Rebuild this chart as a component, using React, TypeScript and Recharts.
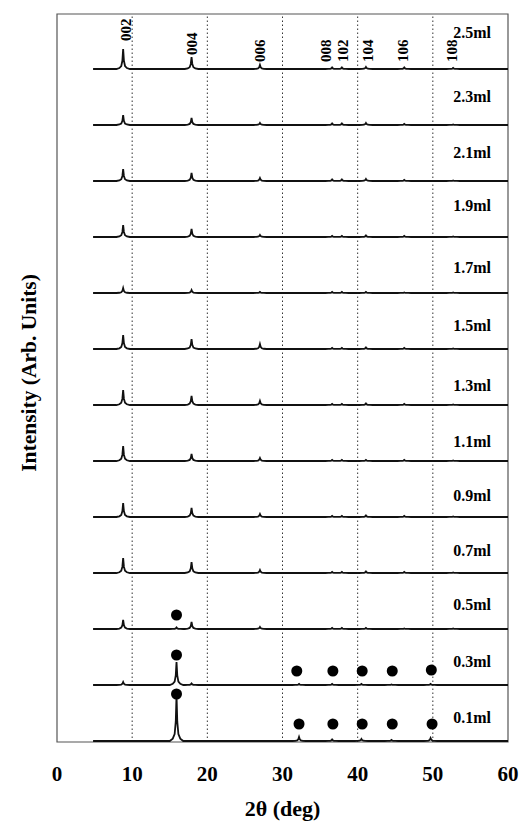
import React from "react";
import {
  ComposedChart,
  Line,
  Scatter,
  XAxis,
  YAxis,
  ReferenceLine,
  ReferenceArea,
} from "recharts";

// samples, bottom trace first
const SAMPLES = ["0.1ml", "0.3ml", "0.5ml", "0.7ml", "0.9ml", "1.1ml", "1.3ml", "1.5ml", "1.7ml", "1.9ml", "2.1ml", "2.3ml", "2.5ml"];

// hydrotalcite reflections
const REFLECTIONS = ["002", "004", "006", "008", "102", "104", "106", "108"];
const REFLECTION_POS = [8.8, 17.9, 27.0, 36.6, 37.9, 41.1, 46.2, 52.7];

// peak intensities per sample (same order as SAMPLES)
const I_002 = [0, 3, 9, 15, 14, 15, 15, 14, 5, 12, 12, 10, 20];
const I_004 = [0, 1.5, 7, 11, 9, 7, 9, 10, 3, 8, 8, 7, 12];
const I_006 = [0, 0, 2, 3, 3, 3, 4, 5, 1, 2, 3, 2, 4];
const I_008 = [0, 0, 1, 1, 1, 1, 1, 1, 1, 1, 1.5, 1.5, 1.5];
const I_102 = [0, 0, 1, 1, 1, 1, 1, 1, 1, 1, 1.5, 1.5, 1.5];
const I_104 = [0, 0, 1, 1.5, 1.5, 1, 1.5, 1.5, 1, 1.5, 2, 2, 2];
const I_106 = [0, 0, 0.5, 1, 1, 1, 1, 1, 0.5, 1, 1, 1, 1.5];
const I_108 = [0, 0, 0.5, 0.5, 0.5, 0.5, 0.5, 0.5, 0.5, 0.5, 0.5, 0.5, 1];
const REFLECTION_I = [I_002, I_004, I_006, I_008, I_102, I_104, I_106, I_108];

// impurity phase (marked with dots)
const IMPURITY_POS = [15.9, 32.2, 36.6, 40.5, 44.5, 49.7];
const IMPURITY_I_01 = [46, 4, 1.5, 2, 1, 3];
const IMPURITY_I_03 = [23, 1, 1, 1, 0.5, 1];
const IMPURITY_I_05 = [1.5, 0, 0, 0, 0, 0];

// dot markers: x and height above own trace
const DOTS_01_X = [15.9, 32.2, 36.7, 40.6, 44.6, 49.9];
const DOTS_01_Y = [47, 17, 17, 17, 17, 17];
const DOTS_03_X = [15.9, 31.9, 36.7, 40.6, 44.6, 49.8];
const DOTS_03_Y = [30, 14, 14, 14, 14, 15];
const DOTS_05_X = [15.9];
const DOTS_05_Y = [14];

// label heights above trace
const SAMPLE_LABEL_RISE = [24, 24, 25, 23, 22, 20, 20, 24, 26, 32, 29, 29, 37];
const REFLECTION_LABEL_X = [9.2, 18.0, 27.0, 35.8, 38.1, 41.4, 46.0, 52.5];
const REFLECTION_LABEL_Y = [701, 687, 680, 680, 680, 680, 680, 680];

const X_TICKS = [0, 10, 20, 30, 40, 50, 60];
const GRID_X = [10, 20, 30, 40, 50];

const STEP = 56;
const BASE = 1;
const SHAPE_DX = [-0.9, -0.5, -0.25, -0.1, 0, 0.1, 0.25, 0.5, 0.9];
const SHAPE_F = [0, 0.05, 0.15, 0.42, 1, 0.42, 0.15, 0.05, 0];
const FONT = "'Liberation Serif', 'Times New Roman', serif";

function shapeAt(dx: number) {
  if (dx <= SHAPE_DX[0] || dx >= SHAPE_DX[SHAPE_DX.length - 1]) return 0;
  for (let k = 0; k < SHAPE_DX.length - 1; k++) {
    if (dx >= SHAPE_DX[k] && dx <= SHAPE_DX[k + 1]) {
      const t = (dx - SHAPE_DX[k]) / (SHAPE_DX[k + 1] - SHAPE_DX[k]);
      return SHAPE_F[k] + t * (SHAPE_F[k + 1] - SHAPE_F[k]);
    }
  }
  return 0;
}

function buildTrace(i: number) {
  const peaks: { pos: number; h: number }[] = [];
  REFLECTION_POS.forEach((pos, r) => {
    if (REFLECTION_I[r][i] > 0) peaks.push({ pos, h: REFLECTION_I[r][i] });
  });
  const imp = i === 0 ? IMPURITY_I_01 : i === 1 ? IMPURITY_I_03 : i === 2 ? IMPURITY_I_05 : null;
  if (imp) IMPURITY_POS.forEach((pos, k) => imp[k] > 0 && peaks.push({ pos, h: imp[k] }));
  const xs = new Set<number>([4.8, 60]);
  peaks.forEach((p) => SHAPE_DX.forEach((d) => xs.add(+(p.pos + d).toFixed(3))));
  const base = i * STEP + BASE;
  return [...xs]
    .sort((a, b) => a - b)
    .map((x) => ({
      x,
      y: base + peaks.reduce((s, p) => s + p.h * shapeAt(x - p.pos), 0),
    }));
}

const traces = SAMPLES.map((_, i) => buildTrace(i));

const dots = [
  ...DOTS_01_X.map((x, k) => ({ x, y: BASE + DOTS_01_Y[k] })),
  ...DOTS_03_X.map((x, k) => ({ x, y: STEP + BASE + DOTS_03_Y[k] })),
  ...DOTS_05_X.map((x, k) => ({ x, y: 2 * STEP + BASE + DOTS_05_Y[k] })),
];

const sampleLabels = SAMPLES.map((label, i) => ({
  x: 52.7,
  y: i * STEP + BASE + SAMPLE_LABEL_RISE[i],
  label,
}));

const hklLabels = REFLECTIONS.map((label, r) => ({
  x: REFLECTION_LABEL_X[r],
  y: REFLECTION_LABEL_Y[r],
  label,
}));

export default function App() {
  return (
    <div style={{ position: "absolute", left: 0, top: 0, background: "#fff" }}>
      <ComposedChart width={520} height={822} margin={{ top: 14, right: 12, bottom: 0, left: 0 }}>
        <XAxis
          type="number"
          dataKey="x"
          domain={[0, 60]}
          ticks={X_TICKS}
          allowDataOverflow
          axisLine={false}
          tickLine={false}
          tickSize={0}
          tickMargin={24}
          height={80}
          tick={{ fontSize: 21, fontWeight: 700, fill: "#000", fontFamily: FONT }}
          label={{
            content: ({ viewBox }: any) => (
              <text
                x={viewBox.x + viewBox.width / 2}
                y={viewBox.y + 66}
                textAnchor="middle"
                dominantBaseline="central"
                style={{ fontSize: 22, fontWeight: 700, fontFamily: FONT, fill: "#000" }}
              >
                2θ (deg)
              </text>
            ),
          }}
        />
        <YAxis
          type="number"
          dataKey="y"
          domain={[0, 728]}
          allowDataOverflow
          width={57}
          axisLine={false}
          tickLine={false}
          tick={false}
          label={{
            content: ({ viewBox }: any) => {
              const cx = viewBox.x + viewBox.width / 2;
              const cy = viewBox.y + viewBox.height / 2 - 5;
              return (
                <text
                  x={cx}
                  y={cy}
                  transform={`rotate(-90, ${cx}, ${cy})`}
                  textAnchor="middle"
                  dominantBaseline="central"
                  style={{ fontSize: 21.5, fontWeight: 700, fontFamily: FONT, fill: "#000" }}
                >
                  Intensity (Arb. Units)
                </text>
              );
            },
          }}
        />
        <ReferenceArea x1={0} x2={60} y1={0} y2={728} fill="none" stroke="#555" strokeWidth={1.2} ifOverflow="visible" />
        {GRID_X.map((x) => (
          <ReferenceLine key={x} x={x} stroke="#333" strokeWidth={1} strokeDasharray="1.5 2.5" />
        ))}
        {traces.map((data, i) => (
          <Line
            key={SAMPLES[i]}
            data={data}
            dataKey="y"
            type="linear"
            stroke="#111"
            strokeWidth={1.8}
            dot={false}
            activeDot={false}
            isAnimationActive={false}
          />
        ))}
        <Scatter
          data={dots}
          isAnimationActive={false}
          shape={(p: any) => <circle cx={p.cx} cy={p.cy} r={5.5} fill="#000" />}
        />
        <Scatter
          data={sampleLabels}
          isAnimationActive={false}
          shape={(p: any) => (
            <text
              x={p.cx}
              y={p.cy}
              textAnchor="start"
              dominantBaseline="central"
              style={{ fontSize: 16, fontWeight: 700, fontFamily: FONT, fill: "#000" }}
            >
              {p.payload.label}
            </text>
          )}
        />
        <Scatter
          data={hklLabels}
          isAnimationActive={false}
          shape={(p: any) => (
            <text
              x={p.cx}
              y={p.cy}
              transform={`rotate(-90, ${p.cx}, ${p.cy})`}
              textAnchor="start"
              dominantBaseline="central"
              style={{ fontSize: 15, fontWeight: 700, fontFamily: FONT, fill: "#000" }}
            >
              {p.payload.label}
            </text>
          )}
        />
      </ComposedChart>
    </div>
  );
}
